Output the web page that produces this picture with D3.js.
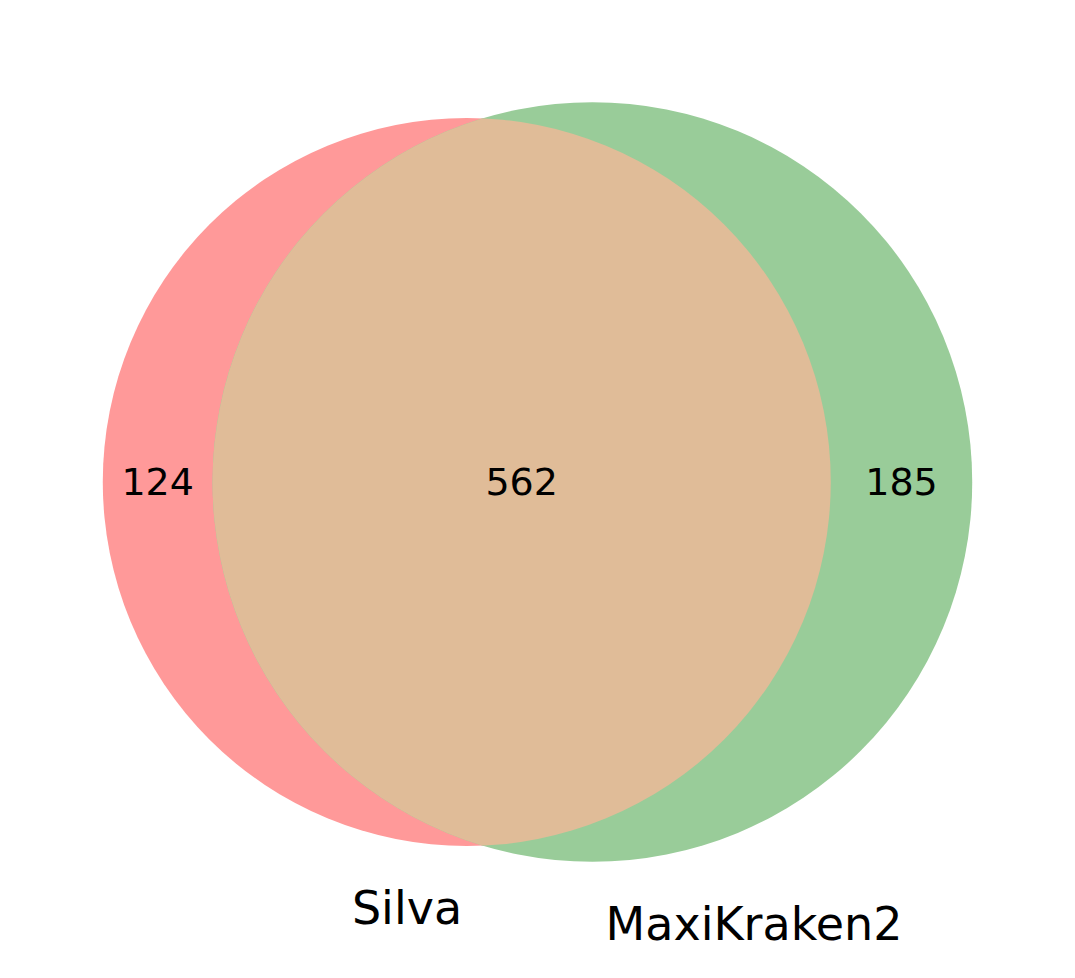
<!DOCTYPE html>
<html><head><meta charset="utf-8">
<script src="https://cdn.jsdelivr.net/npm/d3@7"></script>
<style>body{margin:0;background:#fff}</style></head>
<body><svg id="chart" width="1075" height="978"></svg>
<script>
const setNames = ["Silva", "MaxiKraken2"];
const regionCounts = [124, 185, 562]; // only A, only B, both
const setColors = ["#ff9999", "#99cc99"];
const bothColor = "#e0bc98";

const totalA = regionCounts[0] + regionCounts[2];
const totalB = regionCounts[1] + regionCounts[2];
// area-proportional radii, scaled to pixels
const rScale = d3.scaleSqrt().domain([0, totalA]).range([0, 364]);
const rA = rScale(totalA), rB = rScale(totalB);
const areaK = (rA * rA * Math.PI) / totalA;

function overlap(d) {
  if (d >= rA + rB) return 0;
  if (d <= Math.abs(rA - rB)) return Math.PI * Math.min(rA, rB) ** 2;
  const a = rA * rA * Math.acos((d * d + rA * rA - rB * rB) / (2 * d * rA));
  const b = rB * rB * Math.acos((d * d + rB * rB - rA * rA) / (2 * d * rB));
  const c = 0.5 * Math.sqrt((-d + rA + rB) * (d + rA - rB) * (d - rA + rB) * (d + rA + rB));
  return a + b - c;
}
const target = regionCounts[2] * areaK;
let lo = Math.abs(rA - rB), hi = rA + rB;
for (let i = 0; i < 60; i++) { const m = (lo + hi) / 2; if (overlap(m) > target) lo = m; else hi = m; }
const dist = (lo + hi) / 2;

const cy = 482;
const left = 537.5 - (rA + dist + rB) / 2;
const cxA = left + rA, cxB = cxA + dist;

const svg = d3.select("#chart");
svg.append("defs").append("clipPath").attr("id", "clipA")
  .append("circle").attr("cx", cxA).attr("cy", cy).attr("r", rA);
svg.append("circle").attr("cx", cxA).attr("cy", cy).attr("r", rA).attr("fill", setColors[0]);
svg.append("circle").attr("cx", cxB).attr("cy", cy).attr("r", rB).attr("fill", setColors[1]);
svg.append("circle").attr("cx", cxB).attr("cy", cy).attr("r", rB).attr("fill", bothColor).attr("clip-path", "url(#clipA)");

const font = "DejaVu Sans, sans-serif";
const innerL = cxB - rB, innerR = cxA + rA;
const labels = [
  [regionCounts[0], (cxA - rA + innerL) / 2],
  [regionCounts[2], (innerL + innerR) / 2],
  [regionCounts[1], (innerR + cxB + rB) / 2]
];
svg.selectAll("text.count").data(labels).join("text").attr("class", "count")
  .attr("x", d => d[1]).attr("y", cy).attr("dy", "0.35em")
  .attr("text-anchor", "middle").attr("font-family", font).attr("font-size", 38)
  .text(d => d[0]);

svg.append("text").attr("x", 407).attr("y", 924).attr("text-anchor", "middle")
  .attr("font-family", font).attr("font-size", 46).text(setNames[0]);
svg.append("text").attr("x", 754).attr("y", 940).attr("text-anchor", "middle")
  .attr("font-family", font).attr("font-size", 46).text(setNames[1]);
</script></body></html>
